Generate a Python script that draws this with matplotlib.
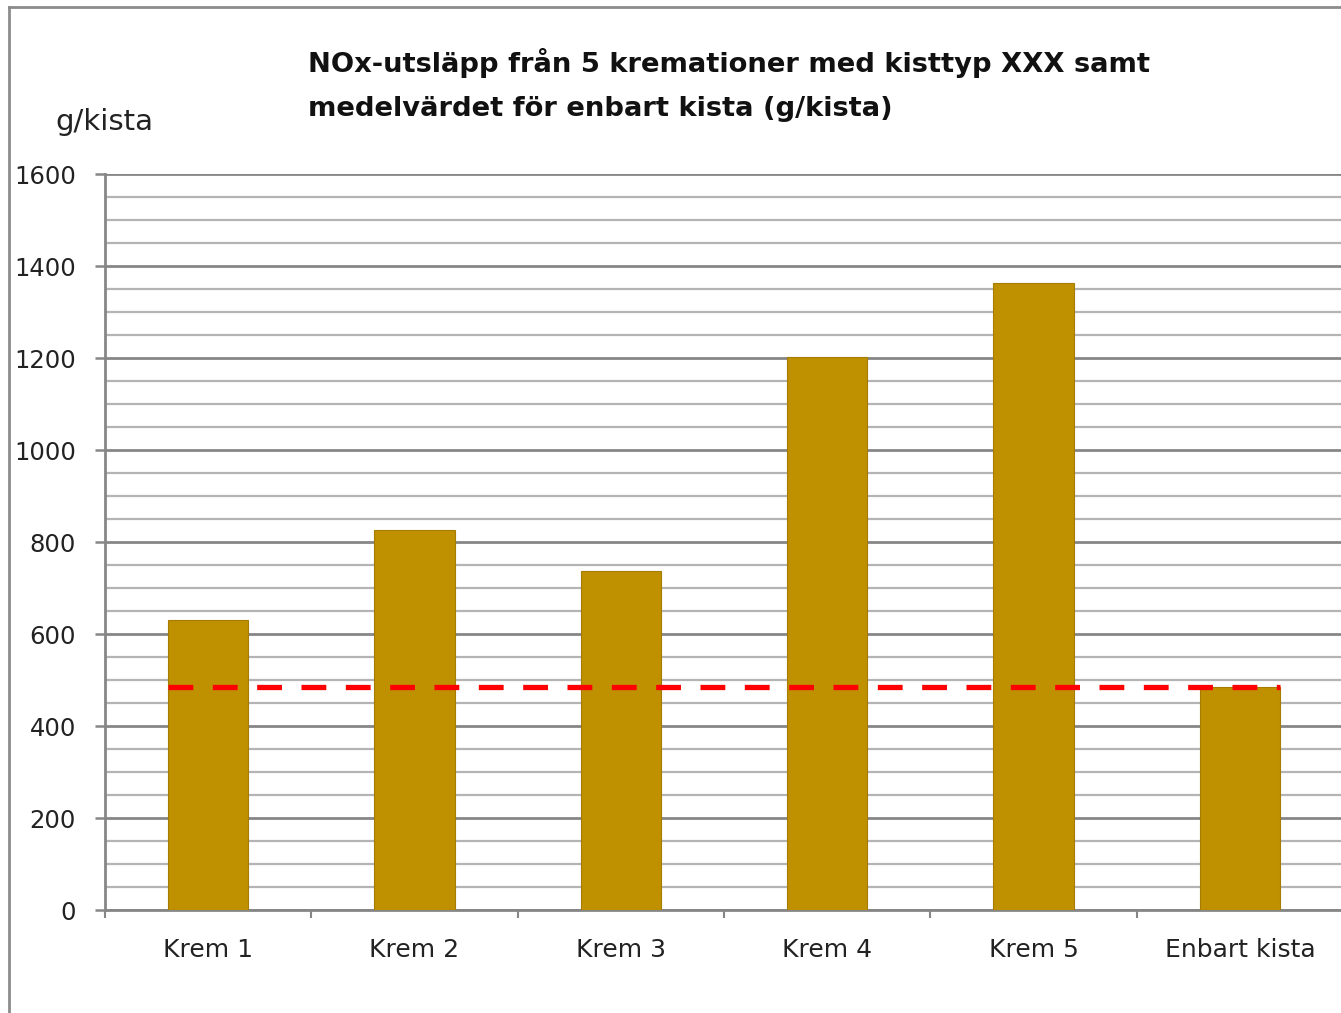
import numpy as np
import matplotlib.pyplot as plt
from matplotlib.ticker import MultipleLocator

# data
categories = ['Krem 1', 'Krem 2', 'Krem 3', 'Krem 4', 'Krem 5', 'Enbart kista']
nox = [630, 826, 737, 1202, 1363, 485]
kista_mean = 484

title = 'NOx-utsläpp från 5 kremationer med kisttyp XXX samt\nmedelvärdet för enbart kista (g/kista)'

fig = plt.figure(figsize=(13.41, 10.13), dpi=100)
ax = fig.add_axes([105 / 1341, 1 - 910 / 1013, 1238 / 1341, 736 / 1013])

x = np.arange(len(categories))
w = 0.39
ax.bar(x, nox, width=w, color='#bf9000', edgecolor='#a67d00', linewidth=0.8, zorder=3)
ax.hlines(kista_mean, x[0] - w / 2, x[-1] + w / 2, colors='#ff0000', linewidth=3.8,
          linestyles=(0, (4.7, 3.7)), zorder=4)

ax.set_xlim(-0.5, len(categories) - 0.5)
ax.set_ylim(0, 1600)
ax.yaxis.set_major_locator(MultipleLocator(200))
ax.yaxis.set_minor_locator(MultipleLocator(50))
ax.grid(which='major', axis='y', color='#868686', linewidth=2.0, zorder=1)
ax.grid(which='minor', axis='y', color='#b4b4b4', linewidth=1.6, zorder=1)

ax.set_xticks(x)
ax.set_xticklabels(categories, fontsize=18, color='#222222')
ax.set_xticks(np.arange(len(categories) + 1) - 0.5, minor=True)
ax.tick_params(axis='x', which='major', length=0, pad=20)
ax.tick_params(axis='x', which='minor', length=6, width=1.5, color='#868686')
ax.tick_params(axis='y', which='major', length=7, width=1.8, color='#868686',
               labelsize=17.5, pad=14, labelcolor='#222222')
ax.tick_params(axis='y', which='minor', length=0)

for s in ['top', 'right']:
    ax.spines[s].set_visible(False)
for s in ['left', 'bottom']:
    ax.spines[s].set_color('#868686')
    ax.spines[s].set_linewidth(2)

fig.text(308 / 1341, 1 - 48 / 1013, title, fontsize=19.7, fontweight='bold',
         ha='left', va='top', linespacing=1.88, color='#111111')
fig.text(55 / 1341, 1 - 122 / 1013, 'g/kista', fontsize=21, ha='left', va='center',
         color='#222222')

# outer chart frame
fig.add_artist(plt.Line2D([9 / 1341, 9 / 1341], [0, 1 - 7 / 1013], transform=fig.transFigure,
                          color='#8c8c8c', linewidth=2))
fig.add_artist(plt.Line2D([9 / 1341, 1], [1 - 7 / 1013, 1 - 7 / 1013], transform=fig.transFigure,
                          color='#8c8c8c', linewidth=2))

fig.savefig('out.png', dpi=100)
